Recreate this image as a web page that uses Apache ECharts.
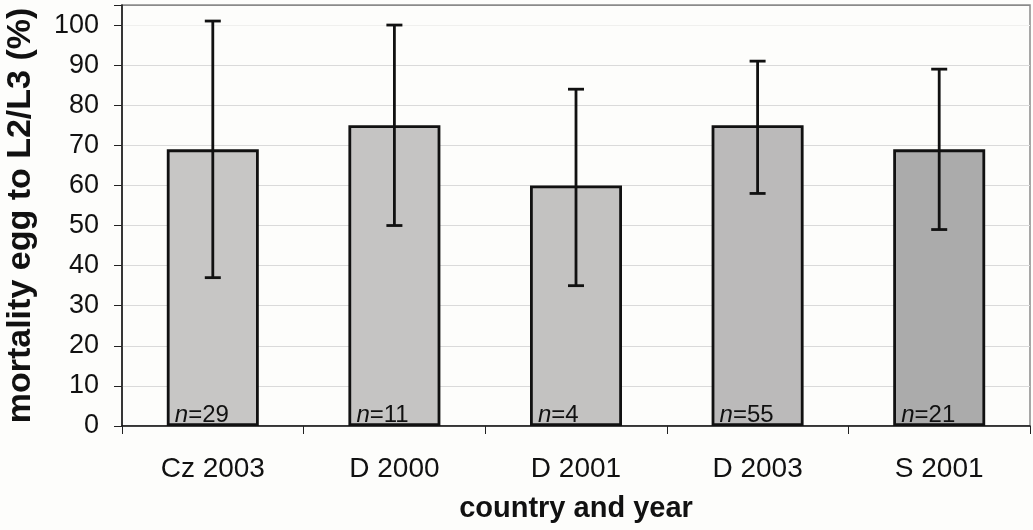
<!DOCTYPE html>
<html>
<head>
<meta charset="utf-8">
<script src="https://cdn.jsdelivr.net/npm/echarts@6/dist/echarts.min.js"></script>
<style>
html,body{margin:0;padding:0;background:#fdfdfb;}
#chart{width:1033px;height:530px;}
</style>
</head>
<body>
<div id="chart"></div>
<script>
var categories = ['Cz 2003', 'D 2000', 'D 2001', 'D 2003', 'S 2001'];
var mortality = [69, 75, 60, 75, 69];
var errLow = [37, 50, 35, 58, 49];
var errHigh = [101, 100, 84, 91, 89];
var sampleN = ['29', '11', '4', '55', '21'];
var barColors = ['#c7c6c5', '#c5c4c3', '#c3c2c1', '#bbbaba', '#ababab'];

var font = '"Liberation Sans", Arial, sans-serif';
var chart = echarts.init(document.getElementById('chart'));

var barData = mortality.map(function (v, i) {
  return { value: v, itemStyle: { color: barColors[i] } };
});
var errData = categories.map(function (c, i) { return [i, errLow[i], errHigh[i]]; });

// grid line colours per tick (0..100, then 105 at the frame)
var gridColors = ['#dadada', '#dadada', '#dadada', '#dadada', '#dadada', '#dadada',
  '#dadada', '#dadada', '#dadada', '#dadada', '#f0f0ee', '#8a8a8a'];

chart.setOption({
  backgroundColor: '#fdfdfb',
  animation: false,
  grid: {
    left: 122, right: 3, top: 5, bottom: 104,
    containLabel: false, outerBoundsMode: 'none',
    show: true, borderColor: '#8a8a8a', borderWidth: 1.5, backgroundColor: 'transparent'
  },
  xAxis: {
    type: 'category',
    data: categories,
    name: 'country and year',
    nameLocation: 'middle',
    nameGap: 68,
    nameTextStyle: { fontFamily: font, fontSize: 29, fontWeight: 'bold', color: '#111' },
    axisLine: { lineStyle: { color: '#111', width: 1.5 } },
    axisTick: { show: true, alignWithLabel: false, length: 8, lineStyle: { color: '#222', width: 1 } },
    axisLabel: { fontFamily: font, fontSize: 28, color: '#111', margin: 29 },
    splitLine: { show: false }
  },
  yAxis: {
    type: 'value',
    min: 0,
    max: 105,
    interval: 10,
    name: 'mortality egg to L2/L3 (%)',
    nameLocation: 'middle',
    nameGap: 84,
    nameTextStyle: { fontFamily: font, fontSize: 34, fontWeight: 'bold', color: '#111' },
    axisLine: { show: true, lineStyle: { color: '#111', width: 1.5 } },
    axisTick: { show: true, length: 8, lineStyle: { color: '#222', width: 1 } },
    axisLabel: {
      fontFamily: font, fontSize: 27, color: '#111', margin: 23,
      formatter: function (v) { return v % 10 === 0 ? String(v) : ''; }
    },
    splitLine: { show: true, lineStyle: { color: gridColors, width: 1.2 } }
  },
  series: [
    {
      type: 'bar',
      data: barData,
      barWidth: 92,
      itemStyle: { borderColor: '#111', borderWidth: 2.8 },
      label: {
        show: true,
        position: 'insideBottomLeft',
        distance: 0,
        offset: [8, 1],
        formatter: function (p) { return '{i|n}{t|=' + sampleN[p.dataIndex] + '}'; },
        rich: {
          i: { fontFamily: font, fontSize: 24, fontStyle: 'italic', color: '#111' },
          t: { fontFamily: font, fontSize: 24, color: '#111' }
        }
      },
      z: 2
    },
    {
      type: 'custom',
      data: errData,
      z: 5,
      renderItem: function (params, api) {
        var x = api.value(0);
        var lo = api.coord([x, api.value(1)]);
        var hi = api.coord([x, api.value(2)]);
        var hw = 8;
        var st = { stroke: '#111', lineWidth: 2.8 };
        return {
          type: 'group',
          children: [
            { type: 'line', shape: { x1: lo[0], y1: lo[1], x2: hi[0], y2: hi[1] }, style: st },
            { type: 'line', shape: { x1: lo[0] - hw, y1: lo[1], x2: lo[0] + hw, y2: lo[1] }, style: st },
            { type: 'line', shape: { x1: hi[0] - hw, y1: hi[1], x2: hi[0] + hw, y2: hi[1] }, style: st }
          ]
        };
      }
    }
  ]
});
</script>
</body>
</html>
